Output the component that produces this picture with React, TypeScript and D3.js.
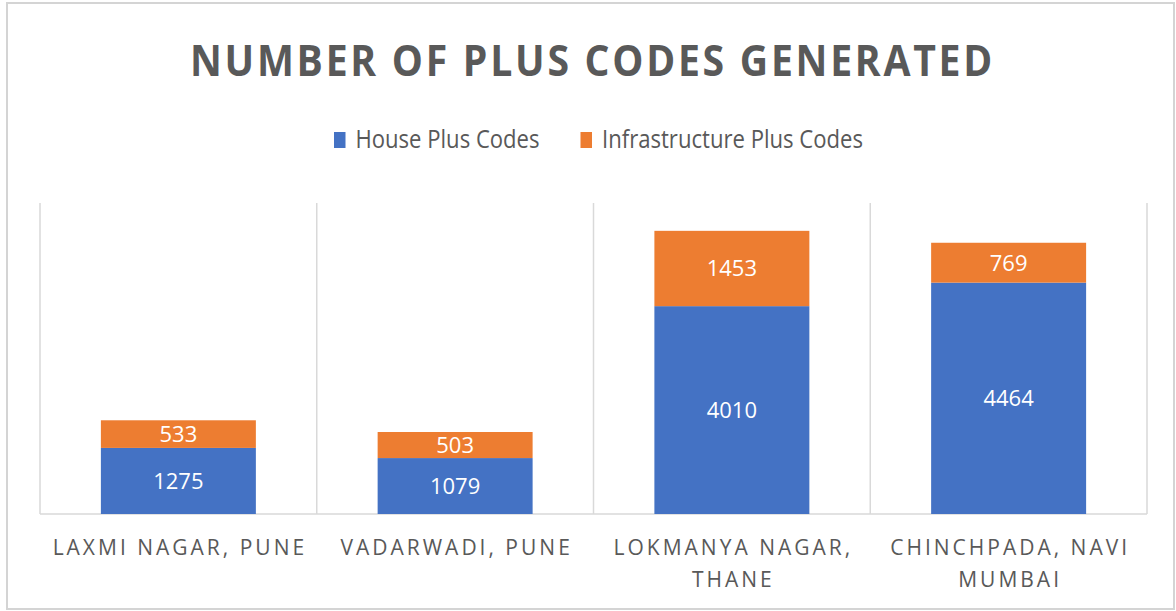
import React from "react";
import * as d3 from "d3";

const categories = ["LAXMI NAGAR, PUNE", "VADARWADI, PUNE", "LOKMANYA NAGAR, THANE", "CHINCHPADA, NAVI MUMBAI"];
const houseCodes = [1275, 1079, 4010, 4464];
const infraCodes = [533, 503, 1453, 769];
const seriesNames = ["House Plus Codes", "Infrastructure Plus Codes"];
const seriesColors = ["#4472C4", "#ED7D31"];
const title = "NUMBER OF PLUS CODES GENERATED";
const yMax = 6000;

const W = 1176;
const H = 611;
const plotLeft = 40;
const plotRight = 1147;
const plotTop = 203;
const plotBottom = 514;
const textColor = "#595959";
const gridColor = "#D9D9D9";
const font = "'Open Sans', sans-serif";

function wrap(label: string, maxChars: number): string[] {
  const words = label.split(" ");
  const lines: string[] = [];
  let cur = "";
  for (const w of words) {
    const next = cur ? cur + " " + w : w;
    if (next.length > maxChars && cur) {
      lines.push(cur);
      cur = w;
    } else cur = next;
  }
  if (cur) lines.push(cur);
  return lines;
}

export default function App() {
  const x = d3.scaleBand<string>().domain(categories).range([plotLeft, plotRight]).padding(0);
  const y = d3.scaleLinear().domain([0, yMax]).range([plotBottom, plotTop]);
  const barW = x.bandwidth() * 0.56;

  const stackData = categories.map((c, i) => ({ cat: c, house: houseCodes[i], infra: infraCodes[i] }));
  const stack = d3.stack<any>().keys(["house", "infra"])(stackData);

  const gridXs = [...categories.map((c) => x(c)!), plotRight];

  return (
    <svg width={W} height={H} style={{ position: "absolute", left: 0, top: 0, background: "#fff" }}>
      <rect x={7} y={3} width={1167} height={606} fill="#fff" stroke="#D4D4D4" strokeWidth={2} />
      <text
        x={592.5}
        y={76}
        textAnchor="middle"
        fontFamily={font}
        fontWeight={700}
        fontSize={43}
        fill={textColor}
        letterSpacing={3}
        textLength={805}
        lengthAdjust="spacingAndGlyphs"
      >
        {title}
      </text>

      {/* legend */}
      {seriesNames.map((s, i) => {
        const tx = [355.5, 602][i];
        const tl = [184, 261][i];
        return (
          <g key={s}>
            <rect x={tx - 21.5} y={132} width={11.5} height={16} fill={seriesColors[i]} />
            <text
              x={tx}
              y={148}
              fontFamily={font}
              fontSize={25}
              fill={textColor}
              textLength={tl}
              lengthAdjust="spacingAndGlyphs"
            >
              {s}
            </text>
          </g>
        );
      })}

      {/* gridlines */}
      {gridXs.map((gx, i) => (
        <line key={i} x1={gx} x2={gx} y1={plotTop} y2={plotBottom} stroke={gridColor} strokeWidth={1.5} />
      ))}
      <line x1={plotLeft} x2={plotRight} y1={plotBottom} y2={plotBottom} stroke={gridColor} strokeWidth={1.5} />

      {/* bars */}
      {stack.map((layer, si) => (
        <g key={si}>
          {layer.map((d, i) => {
            const cx = x(categories[i])! + x.bandwidth() / 2;
            const y0 = y(d[0]);
            const y1 = y(d[1]);
            const v = d[1] - d[0];
            return (
              <g key={i}>
                <rect x={cx - barW / 2} y={y1} width={barW} height={y0 - y1} fill={seriesColors[si]} />
                <text
                  x={cx}
                  y={(y0 + y1) / 2 + 8}
                  textAnchor="middle"
                  fontFamily={font}
                  fontSize={22}
                  fill="#fff"
                >
                  {v}
                </text>
              </g>
            );
          })}
        </g>
      ))}

      {/* category labels */}
      {categories.map((c) => {
        const lines = wrap(c, 17);
        const cx = x(c)! + x.bandwidth() / 2;
        return (
          <text key={c} textAnchor="middle" fontFamily={font} fontSize={21} fill={textColor} letterSpacing={3}>
            {lines.map((l, li) => (
              <tspan key={li} x={cx + 1.5} y={555 + li * 32}>
                {l}
              </tspan>
            ))}
          </text>
        );
      })}
    </svg>
  );
}
